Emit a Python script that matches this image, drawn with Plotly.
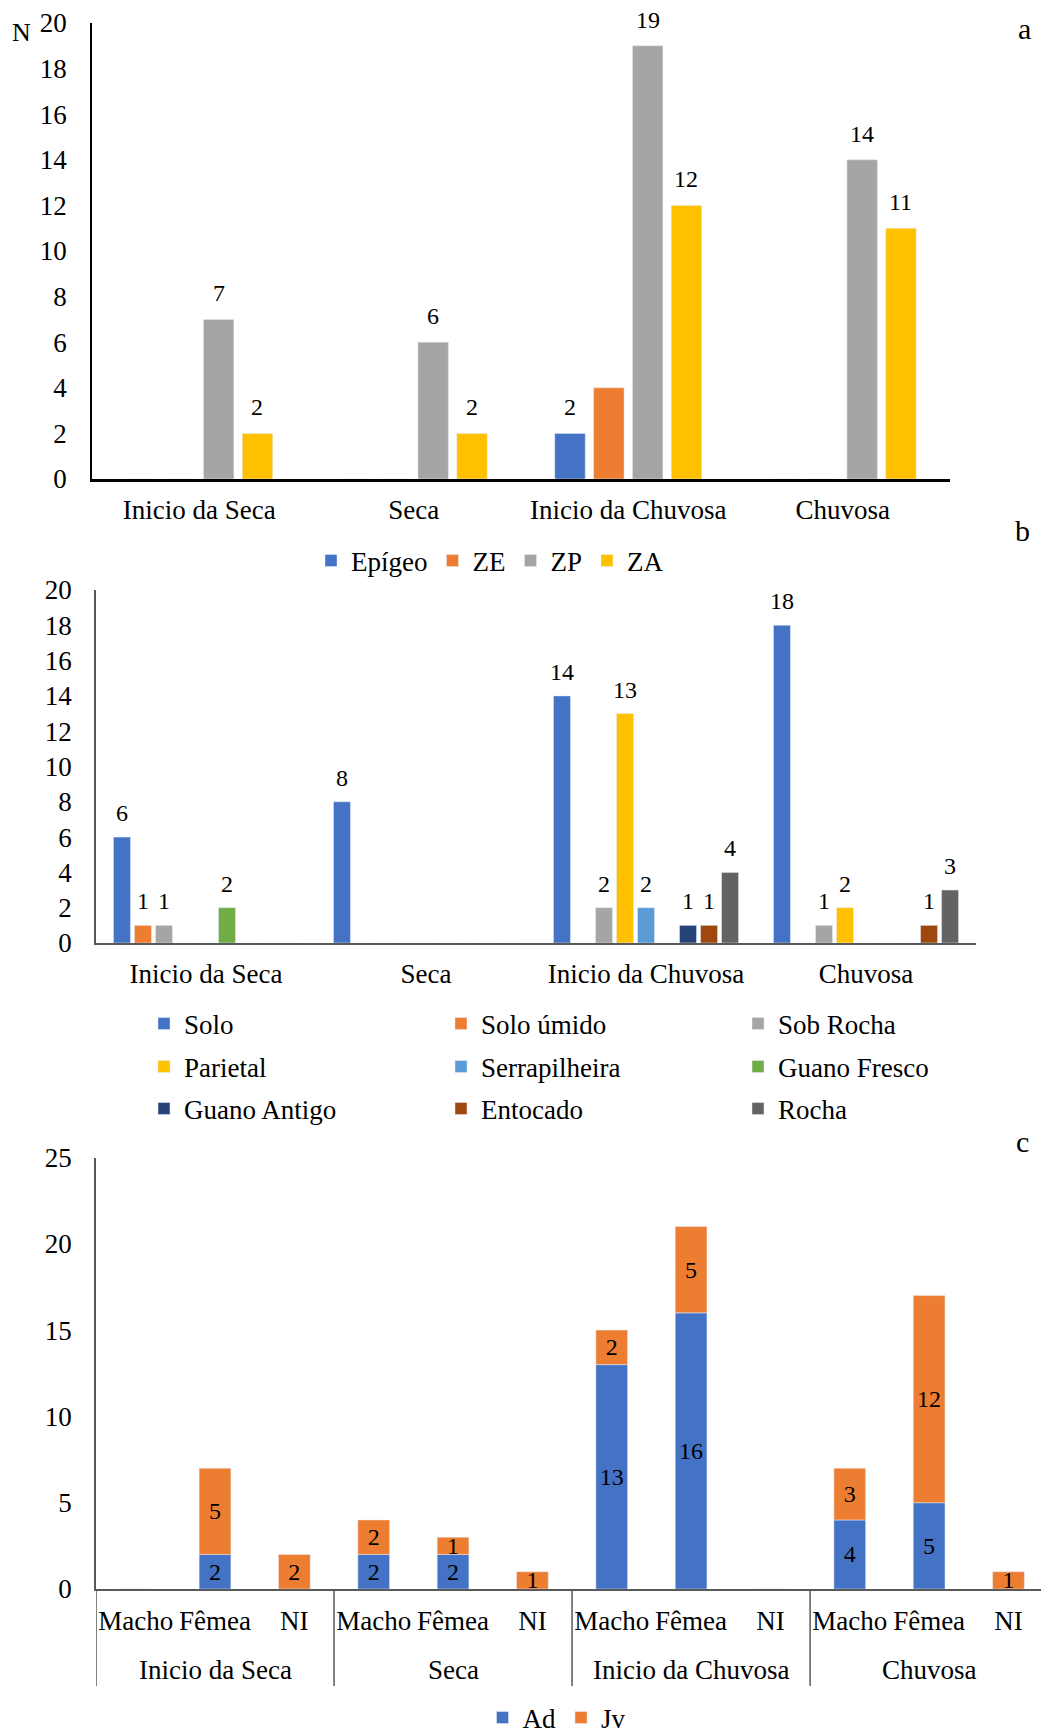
import plotly.graph_objects as go

W, H = 1041, 1733
FONT = "Liberation Serif, Times New Roman, serif"
FS = 27      # axis and legend text
FS_LAB = 24  # data labels

# ---- panel a: individuals per zone and season ----
seasons = ["Inicio da Seca", "Seca", "Inicio da Chuvosa", "Chuvosa"]
zones = ["Epígeo", "ZE", "ZP", "ZA"]
epigeo = [0, 0, 2, 0]
ze = [0, 0, 4, 0]
zp = [7, 6, 19, 14]
za = [2, 2, 12, 11]
zone_values = [epigeo, ze, zp, za]
zone_labelled = [True, False, True, True]
zone_colors = ["#4472C4", "#ED7D31", "#A5A5A5", "#FFC000"]

# ---- panel b: microhabitat per season ----
micro = ["Solo", "Solo úmido", "Sob Rocha", "Parietal", "Serrapilheira",
         "Guano Fresco", "Guano Antigo", "Entocado", "Rocha"]
solo = [6, 8, 14, 18]
solo_umido = [1, 0, 0, 0]
sob_rocha = [1, 0, 2, 1]
parietal = [0, 0, 13, 2]
serrapilheira = [0, 0, 2, 0]
guano_fresco = [2, 0, 0, 0]
guano_antigo = [0, 0, 1, 0]
entocado = [0, 0, 1, 1]
rocha = [0, 0, 4, 3]
micro_values = [solo, solo_umido, sob_rocha, parietal, serrapilheira,
                guano_fresco, guano_antigo, entocado, rocha]
micro_colors = ["#4472C4", "#ED7D31", "#A5A5A5", "#FFC000", "#5B9BD5",
                "#70AD47", "#264478", "#9E480E", "#636363"]

# ---- panel c: sex and age class per season ----
sexes = ["Macho", "Fêmea", "NI"]
adultos = [0, 2, 0, 2, 2, 0, 13, 16, 0, 4, 5, 0]
juvenis = [0, 5, 2, 2, 1, 1, 2, 5, 0, 3, 12, 1]
age_names = ["Ad", "Jv"]
age_colors = ["#4472C4", "#ED7D31"]


def px(x):
    return x / W


def py(y):
    return 1 - y / H


def label_text(values, show=True):
    return [str(v) if (show and v) else "" for v in values]


fig = go.Figure()
lab_font = dict(family=FONT, size=FS_LAB, color="black")
axis_font = dict(family=FONT, size=FS, color="black")


def grouped(names, series, colors, labelled, slot, bar, xa, ya, legend_of, lift):
    """Grouped bars placed by explicit slot offsets, value labels above each bar."""
    n = len(names)
    for i, (name, vals, col, lab) in enumerate(zip(names, series, colors, labelled)):
        off = -n * slot / 2 + i * slot + (slot - bar) / 2
        fig.add_trace(go.Bar(
            x=seasons, y=vals, name=name, marker_color=col,
            width=bar, offset=off, xaxis=xa, yaxis=ya,
            legend=legend_of(i), hoverinfo="skip",
        ))
        for j, (v, t) in enumerate(zip(vals, label_text(vals, lab))):
            if t:
                fig.add_annotation(
                    x=j + off + bar / 2, y=v, xref=xa, yref=ya, text=t,
                    showarrow=False, xanchor="center", yanchor="bottom",
                    yshift=lift, font=lab_font,
                )


grouped(zones, zone_values, zone_colors, zone_labelled, 0.181, 0.142,
        "x", "y", lambda i: "legend", 11)
grouped(micro, micro_values, micro_colors, [True] * len(micro), 0.0955, 0.0773,
        "x2", "y2", lambda i: "legend%d" % (2 + i // 3), 9)

# panel c: one position per (season, sex) pair, seasons drawn as a second label row
subs = [x for _ in seasons for x in sexes]
pos_c = list(range(len(subs)))
bar_c = 0.40
fig.add_trace(go.Bar(
    x=pos_c, y=adultos, name=age_names[0], marker_color=age_colors[0],
    width=bar_c, offset=-bar_c / 2,
    text=label_text(adultos), textposition="inside", insidetextanchor="middle",
    textangle=0, constraintext="none", insidetextfont=lab_font,
    xaxis="x3", yaxis="y3", legend="legend5", hoverinfo="skip",
))
fig.add_trace(go.Bar(
    x=pos_c, y=juvenis, base=adultos, name=age_names[1], marker_color=age_colors[1],
    width=bar_c, offset=-bar_c / 2,
    text=label_text(juvenis), textposition="inside", insidetextanchor="middle",
    textangle=0, constraintext="none", insidetextfont=lab_font,
    xaxis="x3", yaxis="y3", legend="legend5", hoverinfo="skip",
))

n_sex = len(sexes)
y_axis_c, y_div_end, y_group_lab = 1589, 1686, 1670
for k, season in enumerate(seasons):
    fig.add_annotation(
        x=k * n_sex + (n_sex - 1) / 2, y=py(y_group_lab), xref="x3", yref="paper",
        text=season, showarrow=False, xanchor="center", yanchor="middle", font=axis_font,
    )
for k in range(len(seasons) + 1):
    xb = k * n_sex - 0.5
    fig.add_shape(type="line", xref="x3", yref="paper", x0=xb, x1=xb,
                  y0=py(y_axis_c), y1=py(y_div_end),
                  line=dict(color="#595959", width=1.5))

common_x = dict(showgrid=False, zeroline=False, ticks="", tickfont=axis_font,
                fixedrange=True, tickangle=0)
common_y = dict(showgrid=False, zeroline=False, ticks="", tickfont=axis_font,
                fixedrange=True)

legend_common = dict(orientation="h", font=axis_font,
                     bgcolor="rgba(0,0,0,0)", itemclick=False, itemdoubleclick=False)

fig.update_layout(
    width=W, height=H,
    margin=dict(l=0, r=0, t=0, b=0, autoexpand=False),
    paper_bgcolor="white", plot_bgcolor="white",
    barmode="overlay",
    font=axis_font,
    xaxis=dict(common_x, type="category", domain=[px(92), px(950)], anchor="y",
               range=[-0.5, 3.5], showline=True, linecolor="black", linewidth=2.5,
               ticklabelstandoff=5),
    yaxis=dict(common_y, domain=[py(479), py(23)], anchor="x", range=[0, 20], dtick=2,
               showline=True, linecolor="black", linewidth=1.5, ticklabelstandoff=18),
    xaxis2=dict(common_x, type="category", domain=[px(96), px(976)], anchor="y2",
                range=[-0.5, 3.5], showline=True, linecolor="#595959", linewidth=1.5,
                ticklabelstandoff=6),
    yaxis2=dict(common_y, domain=[py(943), py(590)], anchor="x2", range=[0, 20], dtick=2,
                showline=True, linecolor="#595959", linewidth=1.5, ticklabelstandoff=17),
    xaxis3=dict(common_x, type="linear", domain=[px(96), 1.0], anchor="y3",
                range=[-0.5, 11.41], showline=True, linecolor="#595959", linewidth=1.5,
                tickmode="array", tickvals=pos_c, ticktext=subs, ticklabelstandoff=7),
    yaxis3=dict(common_y, domain=[py(y_axis_c), py(1157.5)], anchor="x3", range=[0, 25],
                dtick=5, showline=True, linecolor="#595959", linewidth=1.5,
                ticklabelstandoff=17),
    legend=dict(legend_common, x=px(490), xanchor="center", y=py(561), yanchor="middle"),
    legend2=dict(legend_common, x=px(144), xanchor="left", y=py(1024), yanchor="middle",
                 entrywidth=252, entrywidthmode="pixels"),
    legend3=dict(legend_common, x=px(144), xanchor="left", y=py(1067), yanchor="middle",
                 entrywidth=252, entrywidthmode="pixels"),
    legend4=dict(legend_common, x=px(144), xanchor="left", y=py(1109), yanchor="middle",
                 entrywidth=252, entrywidthmode="pixels"),
    legend5=dict(legend_common, x=px(557), xanchor="center", y=py(1718), yanchor="middle"),
    showlegend=True,
)

panel_font = dict(family=FONT, size=30, color="black")
for txt, x, y in [("a", 1024, 28), ("b", 1022, 530), ("c", 1022, 1141)]:
    fig.add_annotation(text=txt, x=px(x), y=py(y), xref="paper", yref="paper",
                       showarrow=False, font=panel_font, xanchor="center", yanchor="middle")
fig.add_annotation(text="N", x=px(21), y=py(32), xref="paper", yref="paper",
                   showarrow=False, font=dict(family=FONT, size=26, color="black"),
                   xanchor="center", yanchor="middle")

fig.write_html("out.html")
